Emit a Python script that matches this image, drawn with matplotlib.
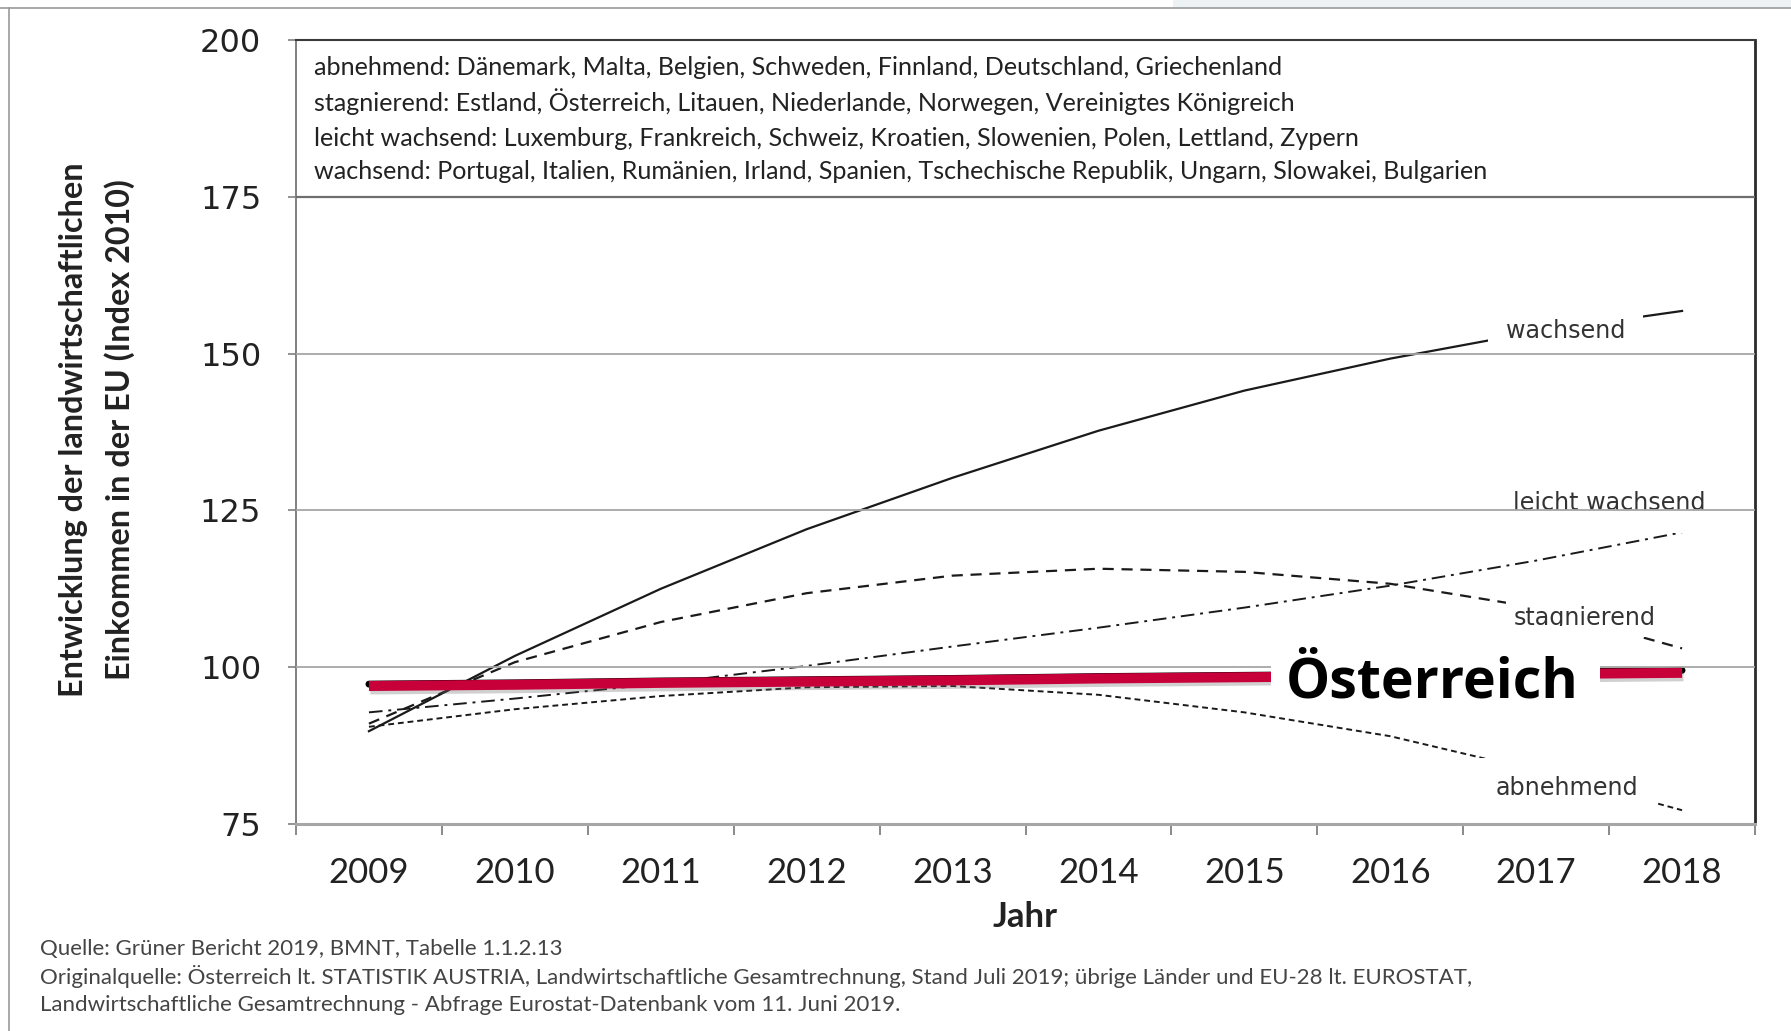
import matplotlib.pyplot as plt
from matplotlib import patheffects as pe
from matplotlib.patches import Rectangle

# Werte (Index 2010)
jahre = [2009, 2010, 2011, 2012, 2013, 2014, 2015, 2016, 2017, 2018]
wachsend = [89.8, 101.8, 112.5, 122.0, 130.2, 137.7, 144.1, 149.2, 153.5, 156.8]
leicht_wachsend = [92.8, 95.0, 97.4, 100.2, 103.3, 106.3, 109.5, 113.0, 117.0, 121.5]
stagnierend = [91.0, 100.8, 107.2, 111.8, 114.6, 115.7, 115.2, 113.3, 109.5, 103.0]
abnehmend = [90.5, 93.3, 95.4, 96.8, 97.0, 95.6, 92.8, 89.0, 83.5, 77.2]
oesterreich_schwarz = [97.3, 97.5, 97.8, 98.0, 98.2, 98.5, 98.7, 98.9, 99.2, 99.5]
oesterreich = [97.0, 97.2, 97.5, 97.7, 97.9, 98.2, 98.4, 98.6, 98.9, 99.1]

y_ticks = [75, 100, 125, 150, 175, 200]

gruppen = [
    "abnehmend: Dänemark, Malta, Belgien, Schweden, Finnland, Deutschland, Griechenland",
    "stagnierend: Estland, Österreich, Litauen, Niederlande, Norwegen, Vereinigtes Königreich",
    "leicht wachsend: Luxemburg, Frankreich, Schweiz, Kroatien, Slowenien, Polen, Lettland, Zypern",
    "wachsend: Portugal, Italien, Rumänien, Irland, Spanien, Tschechische Republik, Ungarn, Slowakei, Bulgarien",
]
gruppen_y = [195.6, 190.2, 184.3, 179.1]

quelle = [
    "Quelle: Grüner Bericht 2019, BMNT, Tabelle 1.1.2.13",
    "Originalquelle: Österreich lt. STATISTIK AUSTRIA, Landwirtschaftliche Gesamtrechnung, Stand Juli 2019; "
    "übrige Länder und EU-28 lt. EUROSTAT,",
    "Landwirtschaftliche Gesamtrechnung - Abfrage Eurostat-Datenbank vom 11. Juni 2019.",
]

W, H = 1791, 1031
fig = plt.figure(figsize=(W / 100, H / 100), dpi=100)

def fx(px):
    return px / W

def fy(py):
    return 1 - py / H

# Rahmen oben/links und hellblauer Streifen wie im Screenshot
fig.patches.append(Rectangle((fx(1173), fy(8)), 1 - fx(1173), 8 / H, transform=fig.transFigure,
                             facecolor='#edf2f5', edgecolor='none'))
fig.lines.append(plt.Line2D([0, 1], [fy(8), fy(8)], transform=fig.transFigure, color='#9a9a9a', lw=1.2))
fig.lines.append(plt.Line2D([fx(9), fx(9)], [0, fy(8)], transform=fig.transFigure, color='#9a9a9a', lw=1.2))

ax = fig.add_axes([fx(296), fy(824), fx(1755) - fx(296), fy(40) - fy(824)])
ax.set_xlim(2008.5, 2018.5)
ax.set_ylim(75, 200)

# Gitterlinien
for v in [100, 125, 150]:
    ax.axhline(v, color='#a6a6a6', lw=1.3, zorder=4)
ax.axhline(175, color='#6e6e6e', lw=1.6, zorder=4)

ax.plot(jahre, wachsend, color='#1a1a1a', lw=1.6, zorder=2)
ax.plot(jahre, stagnierend, color='#1a1a1a', lw=1.6, dashes=(5, 3.5), zorder=2)
ax.plot(jahre, leicht_wachsend, color='#1a1a1a', lw=1.4, dashes=(7, 3, 1.5, 3), zorder=2)
ax.plot(jahre, abnehmend, color='#1a1a1a', lw=1.4, dashes=(3, 2), zorder=2)
ax.plot(jahre, oesterreich_schwarz, color='black', lw=5, solid_capstyle='round', zorder=2)
ax.plot(jahre, oesterreich, color='#c8003a', lw=7.2, solid_capstyle='butt', zorder=5,
        path_effects=[pe.SimpleLineShadow(offset=(1, -2.5), shadow_color='#666666', alpha=0.3),
                      pe.Normal()])

# Beschriftungen der Kurven
lab_kw = dict(fontsize=17.2, color='#333333', ha='center', va='center', zorder=3)
box = dict(facecolor='white', edgecolor='none', boxstyle='square,pad=0.75')
ax.text(2017.2, 153.6, "wachsend", bbox=box, **lab_kw)
ax.text(2017.5, 126.2, "leicht wachsend", bbox=box, **lab_kw)
ax.text(2017.33, 107.8, "stagnierend",
        bbox=dict(facecolor='white', edgecolor='none', boxstyle='square,pad=0.3'), **lab_kw)
ax.text(2017.21, 80.7, "abnehmend", bbox=box, **lab_kw)

# weisser Hintergrund hinter "Österreich"
ax.add_patch(Rectangle((2015.18, 94.5), 2.26, 12.0, facecolor='white', edgecolor='none', zorder=5.5))
ax.text(2016.29, 95.2, "Österreich", fontsize=40, fontweight='bold', family='Open Sans',
        color='black', ha='center', va='baseline', zorder=6)

# Textkasten oben
for zeile, yy in zip(gruppen, gruppen_y):
    ax.text(2008.62, yy, zeile, fontsize=18.1, family='Lato', color='#222222',
            ha='left', va='center', zorder=6)

# Achsen
ax.spines['left'].set_color('#808080')
ax.spines['left'].set_linewidth(1.4)
ax.spines['bottom'].set_color('#a6a6a6')
ax.spines['bottom'].set_linewidth(2.2)
ax.spines['top'].set_color('#3a3a3a')
ax.spines['top'].set_linewidth(1.5)
ax.spines['right'].set_color('#2a2a2a')
ax.spines['right'].set_linewidth(2)

ax.set_yticks(y_ticks)
ax.set_yticklabels([str(v) for v in y_ticks], fontsize=23, color='#222222')
ax.tick_params(axis='y', direction='out', length=6, width=1.2, color='#808080', pad=19)

ax.set_xticks(jahre)
ax.set_xticklabels([str(j) for j in jahre], fontsize=25, family='Lato', color='#222222')
ax.set_xticks([j - 0.5 for j in jahre] + [2018.5], minor=True)
ax.tick_params(axis='x', which='major', length=0, pad=24)
ax.tick_params(axis='x', which='minor', direction='out', length=8, width=1.3, color='#808080')

fig.text(fx(1025), fy(917), "Jahr", fontsize=25, fontweight='bold', family='Lato',
         ha='center', va='center', color='#222222')

fig.text(fx(74), fy(430), "Entwicklung der landwirtschaftlichen", rotation=90, fontsize=23.3,
         fontweight='bold', family='Lato', ha='center', va='center', color='#222222')
fig.text(fx(120), fy(430), "Einkommen in der EU (Index 2010)", rotation=90, fontsize=23.3,
         fontweight='bold', family='Lato', ha='center', va='center', color='#222222')

for i, zeile in enumerate(quelle):
    fig.text(fx(40), fy(949 + i * 28), zeile, fontsize=16, family='Lato', color='#444444',
             ha='left', va='center')

fig.savefig('out.png', dpi=100, facecolor='white')
